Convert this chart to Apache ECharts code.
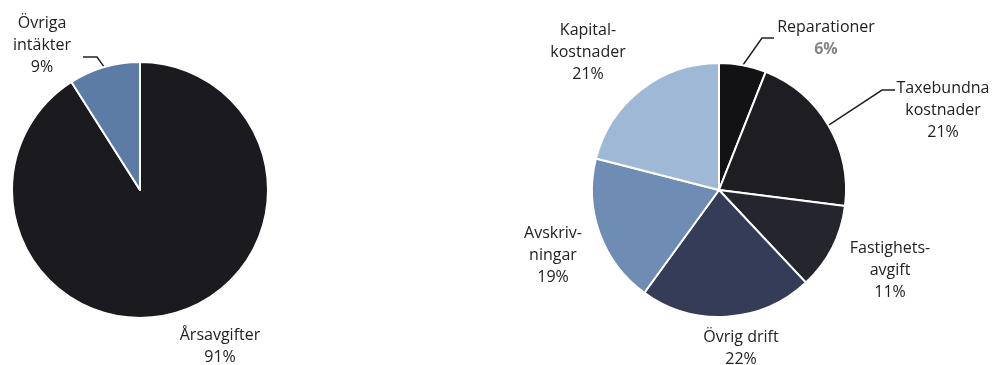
<!DOCTYPE html>
<html>
<head>
<meta charset="utf-8">
<script src="https://cdn.jsdelivr.net/npm/echarts@6/dist/echarts.min.js"></script>
<style>
body{margin:0;background:#fff;}
#main{width:992px;height:365px;}
</style>
</head>
<body>
<div id="main"></div>
<script>
// intakter
var incomeNames = ["Årsavgifter", "Övriga\nintäkter"];
var incomeValues = [91, 9];
var incomeColors = ["#1b1b1f", "#5c7ca6"];

// kostnader
var costNames = ["Reparationer", "Taxebundna\nkostnader", "Fastighets-\navgift", "Övrig drift", "Avskriv-\nningar", "Kapital-\nkostnader"];
var costValues = [6, 21, 11, 22, 19, 21];
var costColors = ["#121215", "#1d1d22", "#25262d", "#353c58", "#6f8db4", "#9fb8d5"];

// var etikett ska sitta (mitt av texten), och knack+slut for linjen
var incomeLayout = [
	{x: 220, y: 346},
	{x: 42, y: 45, line: [[97, 57], [83, 57]]}
];
var costLayout = [
	{x: 826, y: 38, line: [[762, 38], [774, 38]]},
	{x: 943, y: 110, line: [[882, 90], [895, 90]]},
	{x: 890, y: 270},
	{x: 741, y: 348},
	{x: 553, y: 255},
	{x: 588, y: 52}
];

function buildData(names, values, colors, lay){
	var arr = [];
	for (var i = 0; i < names.length; i++) {
		arr.push({
			name: names[i],
			value: values[i],
			itemStyle: {color: colors[i]},
			labelLine: {show: !!lay[i].line}
		});
	}
	return arr;
}

var labelStyle = {
	show: true,
	position: 'outside',
	fontFamily: 'Open Sans',
	fontSize: 16,
	lineHeight: 22,
	color: '#222',
	align: 'center',
	formatter: function(p){
		if (p.name == 'Reparationer') {
			return p.name + '\n{g|' + p.value + '%}';
		}
		return p.name + '\n' + p.value + '%';
	},
	rich: {
		g: {color: '#858585', fontWeight: 'bold', fontSize: 16, lineHeight: 22, fontFamily: 'Open Sans'}
	}
};

function layoutFor(lay){
	return function(params){
		var p = lay[params.dataIndex];
		var res = {
			x: p.x,
			y: p.y,
			align: 'center',
			verticalAlign: 'middle'
		};
		if (p.line && params.labelLinePoints) {
			res.labelLinePoints = [params.labelLinePoints[0], p.line[0], p.line[1]];
		}
		return res;
	};
}

var myChart = echarts.init(document.getElementById("main"));
var option = {
	animation: false,
	series: [
		{
			type: 'pie',
			center: [140, 190],
			radius: 128,
			startAngle: 90,
			data: buildData(incomeNames, incomeValues, incomeColors, incomeLayout),
			itemStyle: {borderColor: '#fff', borderWidth: 2},
			label: labelStyle,
			labelLine: {length: 8, length2: 10, lineStyle: {color: '#222', width: 1.5}},
			labelLayout: layoutFor(incomeLayout),
			emphasis: {disabled: true}
		},
		{
			type: 'pie',
			center: [719, 190],
			radius: 127,
			startAngle: 90,
			data: buildData(costNames, costValues, costColors, costLayout),
			itemStyle: {borderColor: '#fff', borderWidth: 2},
			label: labelStyle,
			labelLine: {length: 20, length2: 15, lineStyle: {color: '#222', width: 1.5}},
			labelLayout: layoutFor(costLayout),
			emphasis: {disabled: true}
		}
	]
};
myChart.setOption(option);
</script>
</body>
</html>
